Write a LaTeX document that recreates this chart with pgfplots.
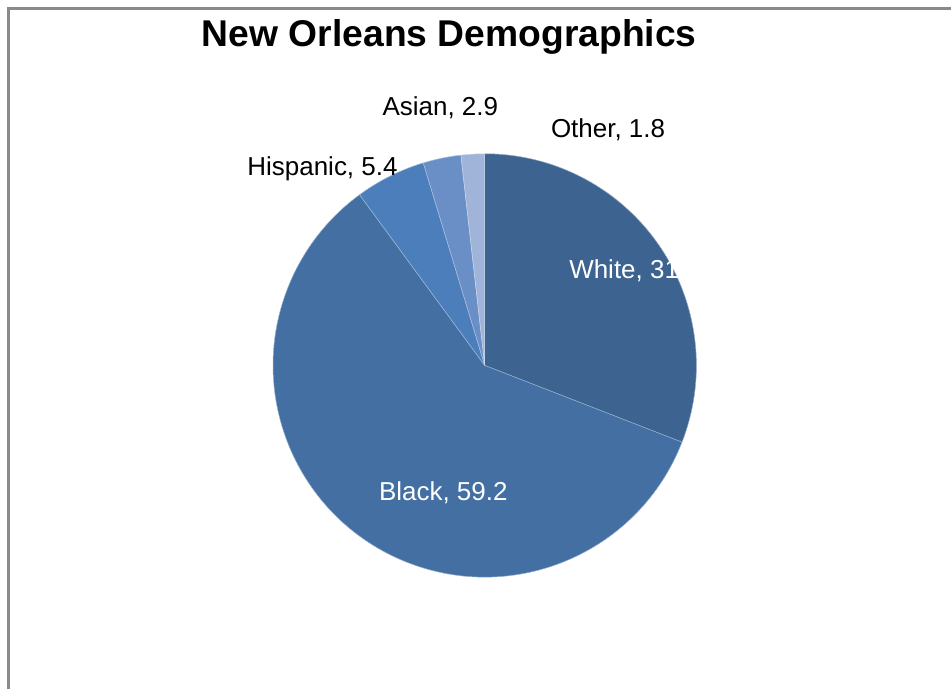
\documentclass[border=0pt]{standalone}
\usepackage{pgfplots}
\usepackage{pgfplotstable}
\pgfplotsset{compat=1.18}
\usepackage{fontspec}
\setmainfont{Liberation Sans}
\definecolor{c0}{HTML}{3D6390}
\definecolor{c1}{HTML}{436FA3}
\definecolor{c2}{HTML}{4C7EBC}
\definecolor{c3}{HTML}{6A8FC7}
\definecolor{c4}{HTML}{A0B4DA}
\definecolor{frame}{HTML}{8A8A8A}
\pgfplotstableread{
label value
White 31
Black 59.2
Hispanic 5.4
Asian 2.9
Other 1.8
}\piedata
\begin{document}
\begin{tikzpicture}
\begin{axis}[
  scale only axis, width=952pt, height=690pt,
  xmin=0, xmax=952, ymin=0, ymax=690,
  hide axis, clip=false]
\path[draw=none] (axis cs:0,0) rectangle (axis cs:952,690);
\pgfmathsetmacro{\total}{0}
\pgfplotsforeachungrouped \i in {0,...,4}{%
  \pgfplotstablegetelem{\i}{value}\of\piedata
  \pgfmathsetmacro{\total}{\total+\pgfplotsretval}%
}
\pgfmathsetmacro{\startang}{90}
\pgfplotsforeachungrouped \i in {0,...,4}{%
  \pgfplotstablegetelem{\i}{value}\of\piedata
  \pgfmathsetmacro{\endang}{\startang-\pgfplotsretval/\total*360}%
  \edef\temp{\noexpand\fill[c\i, draw=white!45!c\i, line width=0.5pt] (axis cs:485.5,324) -- ++(\startang:212pt) arc[start angle=\startang, end angle=\endang, radius=212pt] -- cycle;}%
  \temp
  \global\let\startang\endang
}
\draw[frame, line width=3pt] (axis cs:9,0) -- (axis cs:9,681) -- (axis cs:952,681);
\node[anchor=base, font=\fontsize{37.3}{40}\selectfont\bfseries] at (axis cs:450,643) {New Orleans Demographics};
\node[anchor=base, font=\fontsize{26}{30}\selectfont] at (axis cs:441,574) {Asian, 2.9};
\node[anchor=base, font=\fontsize{26}{30}\selectfont] at (axis cs:609,552) {Other, 1.8};
\node[anchor=base, font=\fontsize{26}{30}\selectfont] at (axis cs:323,514) {Hispanic, 5.4};
\node[anchor=base west, inner sep=0pt, text=white, font=\fontsize{26}{30}\selectfont] at (axis cs:570,411) {White, 31};
\node[anchor=base, text=white, font=\fontsize{26}{30}\selectfont] at (axis cs:444,189) {Black, 59.2};
\end{axis}
\end{tikzpicture}
\end{document}
